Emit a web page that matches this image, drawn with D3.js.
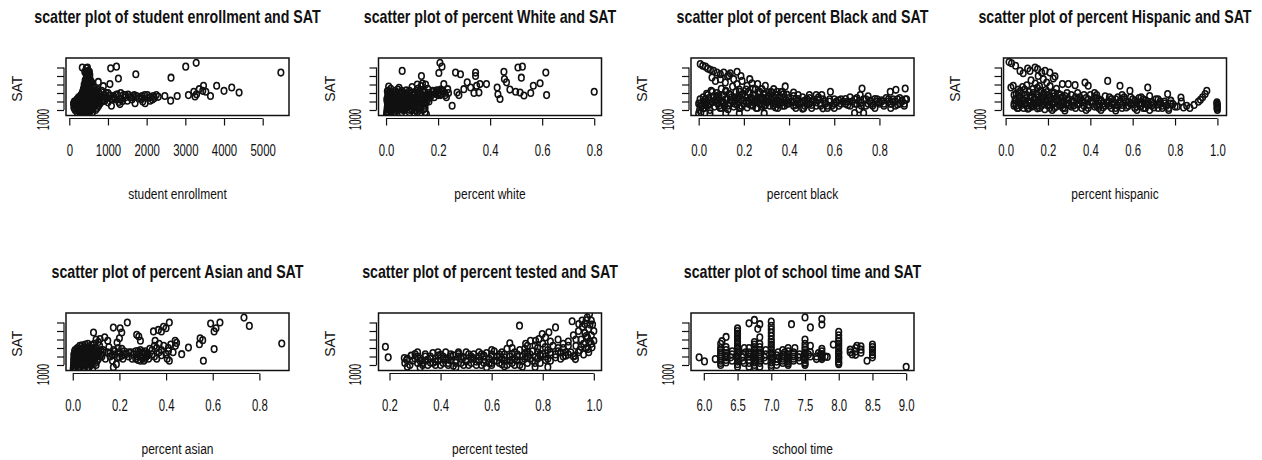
<!DOCTYPE html>
<html>
<head>
<meta charset="utf-8">
<script src="https://cdn.jsdelivr.net/npm/d3@7"></script>
<style>
  body { margin: 0; background: #fff; }
  text { font-family: "Liberation Sans", Arial, Helvetica, sans-serif; fill: #111; }
</style>
</head>
<body>
<script>
// SAT ticks shared by every panel (only 1000 gets a label, as in R)
var satTicks = [1000, 1200, 1400, 1600, 1800, 2000];

var titles = [
  "scatter plot of student enrollment and SAT",
  "scatter plot of percent White and SAT",
  "scatter plot of percent Black and SAT",
  "scatter plot of percent Hispanic and SAT",
  "scatter plot of percent Asian and SAT",
  "scatter plot of percent tested and SAT",
  "scatter plot of school time and SAT"
];
var xLabels = ["student enrollment", "percent white", "percent black", "percent hispanic",
  "percent asian", "percent tested", "school time"];

var enrollTicks = [0, 1000, 2000, 3000, 4000, 5000];
var shareTicks = [0, 0.2, 0.4, 0.6, 0.8];
var shareTicksFull = [0, 0.2, 0.4, 0.6, 0.8, 1.0];
var testedTicks = [0.2, 0.4, 0.6, 0.8, 1.0];
var timeTicks = [6, 6.5, 7, 7.5, 8, 8.5, 9];

// [x, SAT]
var enrollPts = [
  [110,1150],[120,1060],[130,1200],[140,1100],[160,1130],[180,1080],[190,1180],[200,1050],[210,1220],[220,1120],
  [230,1000],[240,1160],[250,1260],[255,1080],[265,950],[270,1200],[280,1120],[285,1030],[295,1300],[300,960],
  [305,1170],[310,1080],[320,1240],[325,1350],[330,990],[335,1140],[340,1420],[345,1060],[350,1280],[355,920],
  [360,1190],[365,1500],[370,1020],[375,1330],[380,1110],[385,1600],[390,960],[395,1250],[400,1400],[405,1080],
  [410,1700],[415,1180],[420,900],[425,1300],[430,1480],[435,1040],[440,1980],[445,1220],[450,1360],[455,1120],
  [460,1850],[465,980],[470,1550],[475,1260],[480,1900],[485,1080],[490,1420],[495,1180],[500,1750],[505,1020],
  [510,1320],[515,1640],[520,1120],[525,1800],[530,1240],[540,1460],[545,1050],[550,1700],[555,1350],[560,1150],
  [570,1580],[575,1010],[580,1280],[590,1640],[600,1180],[610,1400],[620,1090],[630,1520],[640,1260],[650,1340],
  [350,1000],[370,1200],[390,1350],[410,1000],[430,1150],[450,940],[470,1100],[490,1000],[510,940],[530,1050],
  [400,1230],[420,1460],[440,1290],[460,1410],[480,1200],[500,1300],[520,1450],[540,1200],[560,1300],[380,1450],
  [420,1600],[460,1650],[440,1750],[480,1680],[500,1550],[520,1900],[400,1900],[430,1850],[360,1330],[340,1220],
  [320,1010],[300,1120],[350,1140],[450,1060],[550,1000],[600,1050],[620,1360],[580,1450],[470,2000],[410,1550],
  [336,1998],[660,1200],[680,1420],[700,1150],[710,1320],[730,1480],[750,1660],[760,1250],[780,1380],[800,1190],
  [820,1300],[840,1450],[860,1230],[880,1560],[900,1340],[920,1220],[950,1400],[970,1280],[1000,1180],
  [200,950],[280,950],[360,950],[430,950],[520,950],[600,950],[150,1000],[250,1000],[330,1000],[470,1000],
  [560,1000],[680,1000],[130,1050],[210,1050],[300,1050],[390,1050],[460,1050],[620,1050],[720,1050],[170,1100],
  [260,1100],[340,1100],[420,1100],[500,1100],[580,1100],[660,1100],[760,1100],[120,1150],[230,1150],[310,1150],
  [380,1150],[440,1150],[520,1150],[610,1150],[690,1150],[790,1150],[150,1200],[260,1200],[330,1200],[410,1200],
  [490,1200],[560,1200],[640,1200],[720,1200],[850,1200],[200,1250],[290,1250],[370,1250],[450,1250],[530,1250],
  [600,1250],[700,1250],[780,1250],[900,1250],[1100,1250],[1300,1250],[240,1300],[340,1300],[420,1300],[480,1300],
  [560,1300],[650,1300],[740,1300],[830,1300],[960,1300],[1150,1300],[1600,1300],[1850,1300],[2100,1300],
  [300,1350],[380,1350],[460,1350],[540,1350],[610,1350],[700,1350],[800,1350],[920,1350],[1200,1350],[1450,1350],
  [1680,1350],[1950,1350],[350,1400],[420,1400],[500,1400],[570,1400],[660,1400],[760,1400],[1000,1400],[1330,1400],
  [390,1450],[470,1450],[530,1450],[640,1450],[700,1450],[400,1520],[450,1580],[490,1620],[540,1560],[430,1680],
  [510,1720],[560,1650],[470,1780],[530,1830],[490,1920],[450,1900],[1150,1320],[1380,1210],[1520,1360],[1650,1330],
  [1880,1330],[2050,1290],[2150,1250],[2250,1350],
  [1050,1610],[1060,1340],[1090,1100],[1070,1980],[1120,1260],[1180,1260],[1220,2020],[1240,1370],[1270,1740],
  [1280,1190],[1310,1140],[1350,1260],[1400,1350],[1450,1300],[1500,1220],[1570,1300],[1620,1250],[1700,1160],
  [1720,1840],[1740,1330],[1800,1270],[1870,1260],[1900,1200],[1960,1160],[2020,1350],[2090,1220],[2170,1330],
  [2200,1280],[2300,1310],[2470,1330],[2620,1220],[2630,1760],[2790,1330],[3010,2020],[3080,1350],[3220,1430],
  [3250,1320],[3280,2110],[3290,1370],[3360,1490],[3450,1450],[3470,1570],[3530,1430],[3650,1330],[3810,1570],
  [4000,1450],[4200,1530],[4390,1410],[5470,1880]
];

var whitePts = [
  [0.002,900],[0.003,960],[0.004,1020],[0.005,1080],[0.006,1140],[0.004,1200],[0.003,1260],[0.006,1320],[0.008,1380],
  [0.005,1440],[0.01,930],[0.012,1000],[0.01,1060],[0.012,1120],[0.011,1180],[0.013,1240],[0.01,1300],[0.015,1360],
  [0.016,1420],[0.018,1500],[0.02,950],[0.02,1050],[0.022,1150],[0.02,1250],[0.024,1330],[0.025,1000],[0.028,1100],
  [0.03,1200],[0.03,1280],[0.032,1400],[0.035,950],[0.038,1040],[0.04,1150],[0.04,1350],[0.042,1230],[0.045,1480],
  [0.048,1000],[0.05,1100],[0.052,1300],[0.055,1180],[0.058,1420],[0.06,1050],[0.062,1920],[0.065,1250],[0.068,1360],
  [0.07,1130],[0.072,1000],[0.075,1290],[0.078,1460],[0.08,1200],[0.082,1080],[0.085,1330],[0.088,1150],[0.09,1400],
  [0.092,1000],[0.095,1250],[0.098,1120],[0.1,1350],[0.102,1180],[0.105,1060],[0.108,1280],[0.11,1420],[0.112,1000],
  [0.115,1220],[0.118,1130],[0.12,1330],[0.122,1500],[0.125,1200],[0.128,1060],[0.13,1400],[0.132,1280],[0.135,1560],
  [0.136,1800],[0.138,1150],[0.14,1350],[0.142,1470],[0.145,1020],[0.148,1250],[0.15,1420],[0.152,1600],[0.155,1180],
  [0.158,1320],[0.16,1500],[0.11,920],[0.13,900],[0.15,950],[0.155,900],
  [0.005,950],[0.03,950],[0.06,950],[0.09,950],[0.12,950],[0.015,1000],[0.04,1000],[0.065,1000],[0.1,1000],
  [0.13,1000],[0.008,1050],[0.035,1050],[0.07,1050],[0.095,1050],[0.125,1050],[0.15,1050],[0.017,1100],[0.045,1100],
  [0.075,1100],[0.105,1100],[0.135,1100],[0.007,1150],[0.03,1150],[0.06,1150],[0.09,1150],[0.12,1150],[0.15,1150],
  [0.018,1200],[0.045,1200],[0.07,1200],[0.1,1200],[0.14,1200],[0.165,1200],[0.008,1250],[0.035,1250],[0.06,1250],
  [0.085,1250],[0.115,1250],[0.16,1250],[0.02,1300],[0.045,1300],[0.07,1300],[0.095,1300],[0.125,1300],[0.15,1300],
  [0.185,1300],[0.01,1350],[0.03,1350],[0.055,1350],[0.08,1350],[0.11,1350],[0.16,1350],[0.175,1350],[0.21,1350],
  [0.02,1400],[0.05,1400],[0.07,1400],[0.1,1400],[0.12,1400],[0.165,1400],[0.19,1400],[0.225,1400],[0.008,1450],
  [0.035,1450],[0.06,1450],[0.09,1450],[0.13,1450],[0.18,1450],[0.2,1450],[0.215,1450],[0.01,1550],[0.05,1520],
  [0.1,1540],[0.14,1620],[0.12,1600],
  [0.17,1300],[0.18,1420],[0.19,1380],[0.195,1460],[0.2,1350],[0.205,1420],[0.207,2110],[0.21,1480],[0.212,1380],
  [0.215,2020],[0.203,1870],[0.22,1440],[0.222,1610],[0.228,1350],[0.232,1300],[0.237,1490],[0.24,1400],[0.254,1100],
  [0.267,1880],[0.273,1410],[0.28,1350],[0.286,1840],[0.299,1490],[0.312,1650],[0.325,1530],[0.338,1400],[0.344,1880],
  [0.344,1800],[0.348,1570],[0.357,1410],[0.361,1610],[0.386,1610],[0.427,1530],[0.43,1370],[0.438,1260],[0.453,1900],
  [0.455,1730],[0.463,1650],[0.476,1480],[0.498,1430],[0.507,2000],[0.524,2020],[0.52,1760],[0.515,1410],[0.53,1340],
  [0.556,1400],[0.566,1570],[0.592,1630],[0.614,1880],[0.617,1350],[0.80,1430]
];

var blackPts = [
  [0.007,2080],[0.018,2040],[0.03,2020],[0.04,1975],[0.052,1945],[0.066,1920],[0.081,1880],[0.096,1840],[0.111,1880],
  [0.128,1790],[0.14,1865],[0.17,1900],[0.187,1800],[0.226,1725],[0.261,1610],[0.295,1570],[0.332,1490],[0.383,1555],
  [0.42,1410],[0.059,1765],[0.074,1685],[0.096,1725],[0.118,1645],[0.133,1820],[0.155,1725],[0.17,1610],[0.192,1685],
  [0.214,1570],[0.236,1630],[0.251,1490],[0.28,1490],[0.31,1410],[0.347,1430],[0.376,1375],
  [0.004,1000],[0.005,1150],[0.006,1250],[0.01,950],[0.015,1100],[0.02,1300],[0.025,1050],[0.03,1200],[0.035,1380],
  [0.04,1120],[0.045,1280],[0.05,1000],[0.055,1450],[0.06,1180],[0.065,1320],[0.07,1080],[0.075,1240],[0.08,1400],
  [0.085,1150],[0.09,1300],[0.095,1050],[0.1,1500],[0.105,1200],[0.11,1350],[0.115,1100],[0.12,1450],[0.125,1250],
  [0.13,1020],[0.135,1380],[0.14,1150],[0.145,1300],[0.15,1550],[0.155,1080],[0.16,1220],[0.165,1420],[0.17,1130],
  [0.175,1300],[0.18,1480],[0.185,1050],[0.19,1250],[0.195,1380],[0.2,1150],[0.205,1320],[0.21,1480],[0.215,1060],
  [0.22,1220],[0.225,1400],[0.23,1120],[0.235,1280],[0.24,1500],[0.245,1180],[0.25,1350],[0.255,1050],[0.26,1250],
  [0.265,1420],[0.27,1150],[0.275,1300],[0.28,1080],[0.285,1230],[0.29,1380],[0.295,1120],[0.3,1280],[0.305,1200],
  [0.31,1340],[0.315,1100],[0.32,1250],[0.325,1400],[0.33,1160],[0.335,1300],[0.34,1060],[0.345,1220],[0.35,1350],
  [0.355,1130],[0.36,1270],[0.365,1420],[0.37,1180],[0.375,1300],[0.38,1100],[0.385,1240],[0.39,1360],[0.395,1150],
  [0.4,1280],[0.41,1200],[0.42,1330],[0.43,1120],[0.44,1260],[0.45,1180],[0.46,1300],[0.465,1050],[0.47,1220],
  [0.48,1150],[0.49,1280],[0.5,1120],[0.51,1240],[0.52,1180],[0.53,1300],[0.54,1100],[0.55,1250],[0.545,1350],
  [0.56,1150],[0.57,1050],[0.58,1200],[0.583,1430],[0.59,1100],[0.6,1250],[0.61,1180],[0.62,1230],[0.63,1150],
  [0.64,1200],[0.65,1260],[0.66,1120],[0.67,1300],[0.68,1200],[0.69,1150],[0.7,1280],[0.71,1020],[0.715,1350],
  [0.72,1180],[0.723,1505],[0.73,1250],[0.74,1100],[0.75,1320],[0.76,1200],[0.77,1150],[0.78,1260],[0.79,1200],
  [0.8,1180],[0.81,1230],[0.82,1150],[0.83,1280],[0.84,1200],[0.848,1430],[0.85,1150],[0.86,1250],[0.873,1475],
  [0.87,1200],[0.88,1130],[0.89,1280],[0.9,1200],[0.91,1150],[0.914,1505],[0.915,1250],
  [0.0,920],[0.05,920],[0.12,920],[0.18,920],[0.29,920],[0.55,1040],[0.69,930],[0.73,930],[0.46,1030],
  [0.03,1120],[0.07,1200],[0.11,1180],[0.16,1300],[0.2,1230],[0.25,1200],[0.3,1180],[0.35,1220],[0.4,1160],
  [0.08,1320],[0.14,1240],[0.22,1160],[0.28,1300],[0.33,1220],[0.38,1180],[0.44,1200],[0.5,1200],
  [0.01,1100],[0.04,1100],[0.09,1100],[0.13,1100],[0.19,1100],[0.24,1100],[0.29,1100],[0.33,1100],[0.37,1100],
  [0.42,1100],[0.47,1100],[0.52,1100],[0.57,1100],[0.62,1100],[0.67,1100],[0.72,1100],[0.77,1100],[0.82,1100],
  [0.87,1100],[0.91,1100],[0.02,1200],[0.06,1200],[0.1,1200],[0.15,1200],[0.21,1200],[0.26,1200],[0.31,1200],
  [0.36,1200],[0.41,1180],[0.46,1200],[0.51,1200],[0.56,1200],[0.61,1200],[0.66,1200],[0.71,1200],[0.76,1220],
  [0.81,1200],[0.86,1200],[0.9,1220],[0.03,1250],[0.08,1250],[0.12,1250],[0.17,1250],[0.23,1250],[0.27,1250],
  [0.32,1270],[0.43,1250],[0.48,1250],[0.53,1250],[0.58,1250],[0.63,1250],[0.69,1250],[0.74,1250],[0.79,1250],
  [0.84,1250],[0.88,1250],[0.92,1250],[0.0,1150],[0.05,1150],[0.11,1150],[0.16,1150],[0.22,1150],[0.28,1150],
  [0.34,1150],[0.39,1150],[0.44,1150],[0.49,1150],[0.54,1150],[0.6,1150],[0.65,1150],[0.7,1150],[0.75,1150],
  [0.8,1150],[0.85,1150],[0.89,1150],[0.04,1350],[0.09,1350],[0.14,1350],[0.19,1350],[0.24,1350],[0.29,1350],
  [0.34,1350],[0.44,1350],[0.49,1350],[0.52,1350],[0.02,1050],[0.1,1050],[0.18,1050],[0.26,1050],[0.35,1050],
  [0.43,1050],[0.5,1050],[0.6,1050],[0.78,1050],[0.85,1050],[0.06,1430],[0.12,1430],[0.18,1430],[0.22,1430],
  [0.27,1430],[0.32,1430],[0.37,1430]
];

var hispanicPts = [
  [0.016,2130],[0.028,2100],[0.047,2040],[0.068,1920],[0.083,1865],[0.104,1975],[0.115,1920],[0.139,2000],[0.151,1960],
  [0.154,1800],[0.17,1880],[0.186,1920],[0.209,1880],[0.225,1740],[0.233,1790],[0.178,1725],[0.194,1645],[0.12,1700],
  [0.14,1620],[0.16,1560],[0.1,1580],[0.025,1530],[0.036,1570],[0.06,1480],[0.268,1610],[0.296,1610],[0.328,1585],
  [0.375,1645],[0.39,1570],[0.482,1685],[0.54,1570],[0.587,1450],[0.671,1530],[0.765,1375],[0.828,1295],[0.942,1375],
  [0.95,1450],[0.91,1195],[0.89,1120],[0.855,1100],[0.8,1080],[0.77,1000],[0.68,1000],[0.62,1000],[0.52,990],
  [0.45,1000],[0.38,1000],[0.28,990],[0.22,1000],[0.998,1180],[1.0,1120],[0.998,1060],[1.0,1000],[0.997,1150],
  [1.0,1090],[0.999,1030],
  [0.04,1100],[0.045,1250],[0.05,1380],[0.055,1050],[0.06,1180],[0.065,1300],[0.07,1450],[0.075,1120],[0.08,1230],
  [0.085,1050],[0.09,1350],[0.095,1150],[0.1,1280],[0.105,1030],[0.11,1420],[0.115,1200],[0.12,1320],[0.125,1080],
  [0.13,1500],[0.135,1250],[0.14,1150],[0.145,1380],[0.15,1040],[0.155,1300],[0.16,1180],[0.165,1450],[0.17,1100],
  [0.175,1250],[0.18,1350],[0.185,1020],[0.19,1200],[0.195,1420],[0.2,1130],[0.205,1300],[0.21,1050],[0.215,1250],
  [0.22,1400],[0.225,1150],[0.23,1320],[0.24,1080],[0.245,1220],[0.25,1380],[0.255,1120],[0.26,1280],[0.27,1050],
  [0.275,1200],[0.28,1330],[0.29,1150],[0.3,1250],[0.31,1080],[0.32,1200],[0.33,1300],[0.34,1130],[0.35,1230],
  [0.36,1050],[0.37,1180],[0.38,1280],[0.39,1120],[0.4,1350],[0.41,1200],[0.42,1080],[0.43,1280],[0.44,1150],
  [0.45,1230],[0.46,1060],[0.47,1320],[0.48,1180],[0.49,1100],[0.5,1260],[0.51,1150],[0.52,1050],[0.53,1300],
  [0.54,1200],[0.55,1120],[0.56,1250],[0.57,1060],[0.58,1180],[0.59,1300],[0.6,1140],[0.61,1220],[0.62,1080],
  [0.63,1280],[0.64,1160],[0.65,1050],[0.66,1230],[0.67,1120],[0.68,1330],[0.69,1180],[0.7,1060],[0.71,1250],
  [0.72,1130],[0.73,1200],[0.74,1050],[0.75,1150],[0.76,1100],[0.78,1220],[0.79,1140],[0.81,1080],[0.83,1200],
  [0.84,1060],[0.87,1050],[0.92,1240],[0.93,1300],
  [0.07,1150],[0.12,1100],[0.17,1200],[0.23,1180],[0.3,1120],[0.36,1200],[0.44,1100],[0.5,1150],[0.58,1100],[0.66,1150],
  [0.06,1050],[0.11,1050],[0.16,1050],[0.23,1050],[0.28,1050],[0.33,1050],[0.39,1050],[0.44,1050],[0.5,1050],
  [0.55,1050],[0.61,1050],[0.66,1050],[0.72,1050],[0.77,1050],[0.05,1100],[0.1,1100],[0.15,1100],[0.2,1100],
  [0.26,1100],[0.32,1100],[0.37,1100],[0.43,1100],[0.47,1100],[0.53,1100],[0.58,1100],[0.64,1100],[0.69,1100],
  [0.74,1100],[0.04,1150],[0.09,1150],[0.13,1150],[0.18,1150],[0.22,1150],[0.27,1150],[0.35,1150],[0.41,1150],
  [0.46,1150],[0.54,1150],[0.59,1150],[0.63,1150],[0.7,1150],[0.73,1150],[0.78,1150],[0.06,1200],[0.11,1200],
  [0.15,1200],[0.21,1200],[0.26,1200],[0.31,1200],[0.36,1200],[0.4,1200],[0.45,1200],[0.49,1200],[0.57,1200],
  [0.62,1200],[0.67,1200],[0.75,1200],[0.05,1250],[0.08,1250],[0.14,1250],[0.19,1250],[0.24,1250],[0.29,1250],
  [0.34,1250],[0.39,1250],[0.44,1250],[0.52,1250],[0.6,1250],[0.65,1250],[0.72,1250],[0.07,1300],[0.12,1300],
  [0.17,1300],[0.21,1300],[0.27,1300],[0.35,1300],[0.42,1300],[0.49,1300],[0.56,1300],[0.64,1300],[0.04,1350],
  [0.1,1350],[0.15,1350],[0.2,1350],[0.26,1350],[0.31,1350],[0.37,1350],[0.43,1350],[0.55,1350],[0.06,1400],
  [0.13,1400],[0.18,1400],[0.23,1400],[0.29,1400],[0.34,1400],[0.42,1400],[0.09,1480],[0.15,1520],[0.19,1470],
  [0.24,1500],[0.21,1560],[0.08,1540]
];

var asianPts = [
  [0.896,1505],[0.734,2115],[0.757,1920],[0.631,2000],[0.614,1865],[0.591,1975],[0.606,1790],[0.546,1630],[0.557,1585],
  [0.606,1375],[0.56,1100],[0.543,1490],[0.496,1410],[0.467,1255],[0.414,2000],[0.4,1865],[0.389,1900],[0.38,1790],
  [0.367,1825],[0.346,1790],[0.353,1570],[0.439,1570],[0.445,1520],[0.414,1100],[0.405,1150],[0.43,1300],[0.41,1330],
  [0.234,2000],[0.203,1865],[0.174,1880],[0.21,1765],[0.2,1630],[0.19,1530],[0.274,1710],[0.29,1570],[0.283,1670],
  [0.089,1765],[0.117,1610],[0.15,1570],[0.137,1650],[0.174,945],[0.187,1020],
  [0.002,920],[0.003,1000],[0.004,1080],[0.005,1160],[0.006,1240],[0.008,1320],[0.01,950],[0.012,1040],[0.014,1120],
  [0.015,1200],[0.016,1280],[0.018,1380],[0.02,1000],[0.022,1090],[0.024,1170],[0.025,1250],[0.028,1340],[0.03,1450],
  [0.032,950],[0.034,1050],[0.036,1130],[0.038,1220],[0.04,1300],[0.042,1400],[0.044,1000],[0.046,1100],[0.048,1180],
  [0.05,1260],[0.052,1350],[0.054,1480],[0.056,1030],[0.058,1140],[0.06,1220],[0.062,1300],[0.064,1420],[0.066,1080],
  [0.068,1180],[0.07,1260],[0.072,1340],[0.074,1000],[0.076,1120],[0.078,1230],[0.08,1380],[0.082,1160],[0.084,1280],
  [0.086,1060],[0.088,1200],[0.09,1330],[0.092,1500],[0.095,1150],[0.098,1260],[0.1,1400],[0.105,1200],[0.11,1320],
  [0.115,1450],[0.12,1250],[0.085,900],[0.065,920],[0.045,910],
  [0.005,950],[0.025,950],[0.05,950],[0.07,950],[0.01,1000],[0.035,1000],[0.055,1000],[0.08,1000],[0.1,1000],
  [0.005,1050],[0.025,1050],[0.045,1050],[0.07,1050],[0.095,1050],[0.015,1100],[0.035,1100],[0.06,1100],[0.085,1100],
  [0.105,1100],[0.005,1150],[0.025,1150],[0.045,1150],[0.07,1150],[0.09,1150],[0.11,1150],[0.015,1200],[0.035,1200],
  [0.055,1200],[0.075,1200],[0.1,1200],[0.125,1200],[0.005,1250],[0.02,1250],[0.045,1250],[0.065,1250],[0.085,1250],
  [0.11,1250],[0.015,1300],[0.03,1300],[0.05,1300],[0.075,1300],[0.1,1300],[0.13,1300],[0.01,1350],[0.04,1350],
  [0.06,1350],[0.085,1350],[0.12,1350],[0.02,1400],[0.05,1400],[0.07,1400],[0.09,1400],[0.04,1460],[0.065,1500],
  [0.08,1470],[0.11,1540],[0.1,1600],
  [0.13,1350],[0.14,1150],[0.15,1300],[0.155,1420],[0.16,1200],[0.17,1100],[0.175,1350],[0.18,1250],[0.19,1180],
  [0.195,1400],[0.2,1300],[0.21,1220],[0.215,1150],[0.22,1320],[0.23,1260],[0.24,1200],[0.25,1300],[0.255,1150],
  [0.26,1250],[0.27,1320],[0.275,1200],[0.28,1120],[0.285,1280],[0.29,1350],[0.295,1180],[0.3,1250],[0.305,1100],
  [0.31,1320],[0.315,1200],[0.32,1280],[0.325,1150],[0.33,1380],[0.34,1250],[0.35,1200],[0.36,1400],[0.37,1300],
  [0.38,1230],[0.39,1450],[0.42,1480],[0.44,1450],
  [0.27,1150],[0.28,1250],[0.29,1200],[0.3,1300],[0.31,1150],[0.32,1220],[0.3,1170],[0.28,1330],[0.31,1260],
  [0.29,1100],[0.16,1280],[0.18,1320],[0.2,1180],[0.22,1250],[0.24,1300],[0.21,1380],[0.17,1230],[0.34,1350],
  [0.36,1150],[0.38,1350],[0.4,1250],[0.41,1400],[0.37,1500],[0.35,1450]
];

var testedPts = [
  [0.184,1430],[0.195,1180],[0.258,1165],[0.267,1120],[0.285,1220],[0.3,1260],[0.31,1300],[0.32,1100],
  [0.709,1925],[0.85,1885],[0.824,1770],[0.915,2030],[0.941,1965],[0.954,2045],[0.974,2120],[0.99,2045],[0.983,2200],
  [0.965,1965],[0.928,1140],[0.926,1220],[0.993,1415],[1.0,1570],[0.978,1375],[0.798,1730],[0.811,1650],[0.785,1610],
  [0.772,1570],[0.752,1570],[0.733,1500],[0.671,1510],
  [0.33,1050],[0.34,1200],[0.35,1000],[0.36,1150],[0.37,1280],[0.38,1080],[0.39,1220],[0.4,1000],[0.41,1150],
  [0.42,1300],[0.43,1050],[0.44,1200],[0.45,980],[0.46,1120],[0.47,1260],[0.48,1050],[0.49,1180],[0.5,1300],
  [0.51,1000],[0.52,1150],[0.53,1250],[0.54,1080],[0.55,1200],[0.56,1000],[0.57,1130],[0.58,1280],[0.59,1050],
  [0.6,1200],[0.61,1320],[0.62,1100],[0.63,1250],[0.64,1020],[0.65,1180],[0.66,1380],[0.67,1100],[0.68,1250],
  [0.69,1000],[0.7,1200],[0.71,1350],[0.72,1100],[0.73,1280],[0.74,1450],[0.75,1150],[0.76,1320],[0.77,1050],
  [0.78,1400],[0.79,1220],[0.8,1500],[0.81,1120],[0.82,1350],[0.83,1250],[0.84,1450],[0.85,1180],[0.86,1600],
  [0.87,1300],[0.88,1400],[0.89,1220],[0.9,1550],[0.91,1300],[0.92,1700],[0.93,1450],[0.94,1800],[0.945,1350],
  [0.95,1600],[0.955,1900],[0.96,1500],[0.965,1750],[0.97,1400],[0.975,1650],[0.98,1850],[0.985,1550],[0.99,1700],
  [0.995,1950],[1.0,1800],[0.97,2050],[0.985,1950],
  [0.27,960],[0.32,940],[0.46,950],[0.58,950],[0.65,970],[0.72,960],[0.77,955],[0.82,950],
  [0.35,1130],[0.45,1230],[0.55,1100],[0.62,1200],[0.4,1240],[0.5,1080],[0.6,1050],[0.3,1150],[0.36,1060],
  [0.42,1120],[0.48,1200],[0.53,1160],[0.57,1220],[0.64,1140],[0.68,1130],[0.74,1200],[0.8,1260],[0.86,1320],
  [0.28,1000],[0.33,1000],[0.38,1000],[0.43,1000],[0.49,1000],[0.54,1000],[0.6,1000],[0.66,1000],[0.71,1000],
  [0.26,1050],[0.31,1050],[0.37,1050],[0.41,1050],[0.46,1050],[0.52,1050],[0.57,1050],[0.63,1050],[0.68,1050],
  [0.74,1050],[0.79,1050],[0.29,1100],[0.34,1100],[0.39,1100],[0.44,1100],[0.5,1100],[0.55,1100],[0.61,1100],
  [0.65,1100],[0.7,1100],[0.76,1100],[0.83,1100],[0.27,1150],[0.32,1150],[0.38,1150],[0.43,1150],[0.48,1150],
  [0.53,1150],[0.59,1150],[0.64,1150],[0.69,1150],[0.73,1150],[0.78,1150],[0.82,1150],[0.87,1150],[0.31,1200],
  [0.36,1200],[0.41,1200],[0.47,1200],[0.52,1200],[0.57,1200],[0.63,1200],[0.67,1200],[0.72,1200],[0.77,1200],
  [0.81,1200],[0.88,1200],[0.92,1200],[0.34,1250],[0.44,1250],[0.51,1250],[0.56,1250],[0.6,1250],[0.65,1250],
  [0.7,1250],[0.75,1250],[0.79,1250],[0.85,1250],[0.9,1250],[0.96,1250],[0.39,1300],[0.47,1300],[0.55,1300],
  [0.64,1300],[0.69,1300],[0.74,1300],[0.78,1300],[0.83,1300],[0.89,1300],[0.94,1300],[0.98,1300],[0.6,1350],
  [0.68,1400],[0.73,1380],[0.77,1460],[0.81,1420],[0.86,1400],[0.9,1450],[0.95,1430],[0.99,1500],[0.83,1550],
  [0.88,1500],[0.93,1600],[0.97,1680]
];

var timePts = [
  [5.93,1180],[6.01,1085],[6.17,1140],
  [6.25,1000],[6.25,1100],[6.25,1200],[6.25,1300],[6.25,1400],[6.25,1500],[6.27,1560],
  [6.33,1060],[6.33,1180],[6.33,1280],[6.33,1420],[6.33,1660],[6.42,1100],[6.42,1250],
  [6.5,960],[6.5,1020],[6.5,1080],[6.5,1140],[6.5,1200],[6.5,1260],[6.5,1320],[6.5,1380],[6.5,1440],[6.5,1500],
  [6.5,1560],[6.5,1620],[6.5,1680],[6.5,1740],[6.5,1800],[6.5,1860],[6.48,1200],[6.52,1300],
  [6.58,1100],[6.58,1250],[6.6,1400],[6.67,960],[6.67,1050],[6.67,1200],[6.67,1300],[6.67,1980],
  [6.75,950],[6.75,1000],[6.75,1060],[6.75,1120],[6.75,1180],[6.75,1240],[6.75,1300],[6.75,1360],[6.75,1420],
  [6.75,1480],[6.75,1540],[6.75,2060],[6.73,1200],[6.77,1100],
  [6.83,960],[6.83,1050],[6.83,1150],[6.83,1250],[6.83,1350],[6.83,1500],[6.83,1650],[6.83,1960],[6.8,1850],
  [6.92,1100],[6.92,1250],
  [7.0,950],[7.0,1000],[7.0,1060],[7.0,1120],[7.0,1180],[7.0,1240],[7.0,1300],[7.0,1360],[7.0,1420],[7.0,1480],
  [7.0,1540],[7.0,1600],[7.0,1680],[7.0,1760],[7.0,1840],[7.0,1920],[7.0,2020],[7.02,1150],
  [7.08,1000],[7.08,1150],[7.1,1300],[7.17,1050],[7.17,1150],[7.17,1250],[7.17,1350],
  [7.25,1000],[7.25,1080],[7.25,1160],[7.25,1240],[7.25,1320],[7.25,1400],[7.3,1960],
  [7.33,1100],[7.33,1200],[7.33,1300],[7.35,1400],[7.42,1100],[7.42,1250],
  [7.5,1000],[7.5,1060],[7.5,1120],[7.5,1180],[7.5,1240],[7.5,1300],[7.5,1360],[7.5,1420],[7.5,1500],[7.5,1600],
  [7.5,2120],[7.48,1200],[7.58,1885],[7.58,1200],[7.58,1450],[7.67,1140],
  [7.75,1140],[7.75,1200],[7.75,1260],[7.75,1320],[7.75,1380],[7.75,1950],[7.75,2080],[7.73,1250],
  [7.83,1190],[7.92,1480],
  [8.0,1020],[8.0,1080],[8.0,1140],[8.0,1200],[8.0,1260],[8.0,1320],[8.0,1380],[8.0,1440],[8.0,1500],[8.0,1560],
  [8.0,1620],[8.0,1700],[8.0,1780],
  [8.17,1300],[8.17,1360],[8.25,1240],[8.25,1320],[8.25,1400],[8.27,1450],[8.33,1290],[8.33,1360],[8.33,1440],
  [8.42,1100],[8.5,1180],[8.5,1240],[8.5,1300],[8.5,1360],[8.5,1420],[8.5,1480],[9.0,960],
  [6.25,1050],[6.25,1150],[6.25,1250],[6.25,1350],[6.33,1120],[6.33,1230],[6.33,1350],[6.4,1180],[6.42,1320],
  [6.58,1180],[6.6,1050],[6.62,1300],[6.67,1120],[6.67,1250],[6.67,1400],[6.83,1100],[6.83,1200],[6.83,1300],
  [6.83,1420],[6.9,1180],[6.92,1350],[7.08,1080],[7.08,1230],[7.12,1180],[7.17,1100],[7.17,1200],[7.2,1300],
  [7.25,1040],[7.25,1120],[7.25,1200],[7.33,1150],[7.33,1250],[7.4,1180],[7.42,1180],[7.5,1030],[7.5,1150],
  [7.5,1270],[7.55,1250],[7.58,1300],[7.67,1200],[7.7,1280],[7.75,1170],[7.75,1230],[7.8,1200],[8.0,1050],
  [8.0,1170],[8.0,1290],[8.2,1250]
];

var fmtInt = d3.format("d"), fmt1 = d3.format(".1f");
var panels = [
  {pts: enrollPts,   ticks: enrollTicks,    dom: [-85, 5680],     fmt: fmtInt},
  {pts: whitePts,    ticks: shareTicks,     dom: [-0.029, 0.828], fmt: fmt1},
  {pts: blackPts,    ticks: shareTicks,     dom: [-0.034, 0.953], fmt: fmt1},
  {pts: hispanicPts, ticks: shareTicksFull, dom: [-0.01, 1.043],  fmt: fmt1},
  {pts: asianPts,    ticks: shareTicks,     dom: [-0.029, 0.927], fmt: fmt1},
  {pts: testedPts,   ticks: testedTicks,    dom: [0.157, 1.03],   fmt: fmt1},
  {pts: timePts,     ticks: timeTicks,      dom: [5.81, 9.116],   fmt: fmt1}
];

var width = 1262, height = 460;
var boxW = 223, boxH = 57.5;
var ink = "#111";
var fontStack = "Liberation Sans, Arial, sans-serif";

var svg = d3.select("body").append("svg")
    .attr("width", width)
    .attr("height", height);

panels.forEach(function(p, i) {
  var col = i % 4, row = Math.floor(i / 4);
  var left = 66 + col * 312.5, top = 58 + row * 255;

  var x = d3.scaleLinear().domain(p.dom).range([0, boxW]);
  var y = d3.scaleLinear().domain([870.6, 2223.5]).range([boxH, 0]);

  var g = svg.append("g").attr("transform", "translate(" + left + "," + top + ")");

  g.append("clipPath").attr("id", "clip" + i)
    .append("rect").attr("width", boxW).attr("height", boxH);

  g.append("g")
      .attr("clip-path", "url(#clip" + i + ")")
    .selectAll("ellipse")
    .data(p.pts)
    .enter().append("ellipse")
      .attr("cx", function(d) { return x(d[0]); })
      .attr("cy", function(d) { return y(d[1]); })
      .attr("rx", 2.8)
      .attr("ry", 3.3)
      .attr("fill", "none")
      .attr("stroke", ink)
      .attr("stroke-width", 1.55);

  g.append("rect")
    .attr("width", boxW)
    .attr("height", boxH)
    .attr("fill", "none")
    .attr("stroke", ink)
    .attr("stroke-width", 1.5);

  // x axis, line only from first to last tick like R
  var xa = g.append("g")
    .attr("transform", "translate(0," + (boxH + 3) + ")")
    .call(d3.axisBottom(x).tickValues(p.ticks).tickSize(7).tickFormat(p.fmt));
  xa.select(".domain").remove();
  xa.append("line")
    .attr("x1", x(p.ticks[0])).attr("x2", x(p.ticks[p.ticks.length - 1]))
    .attr("stroke", ink).attr("stroke-width", 1.2);
  xa.selectAll(".tick line").attr("stroke", ink).attr("stroke-width", 1.2);
  xa.selectAll(".tick text")
    .attr("y", 0).attr("dy", null)
    .attr("transform", "translate(0,37.5) scale(0.69,1)")
    .attr("font-size", 16.5)
    .attr("font-family", fontStack)
    .style("fill", ink);

  // y axis, only 1000 labelled
  var ya = g.append("g")
    .attr("transform", "translate(-2,0)")
    .call(d3.axisLeft(y).tickValues(satTicks).tickSize(7)
      .tickFormat(function(d) { return d === 1000 ? "1000" : ""; }));
  ya.select(".domain").remove();
  ya.append("line")
    .attr("y1", y(satTicks[0])).attr("y2", y(satTicks[satTicks.length - 1]))
    .attr("stroke", ink).attr("stroke-width", 1.2);
  ya.selectAll(".tick line").attr("stroke", ink).attr("stroke-width", 1.2);
  ya.selectAll(".tick text")
    .attr("x", 0).attr("dy", "0.35em")
    .attr("transform", "translate(-21,9) rotate(-90) scale(0.6,1)")
    .attr("text-anchor", "middle")
    .attr("font-size", 16)
    .attr("font-family", fontStack)
    .style("fill", ink);

  // title and axis labels
  g.append("text")
    .text(titles[i])
    .attr("transform", "translate(" + (boxW / 2) + ",-35) scale(0.79,1)")
    .attr("text-anchor", "middle")
    .style("font-size", "18px")
    .style("font-weight", "bold");

  g.append("text")
    .text(xLabels[i])
    .attr("transform", "translate(" + (boxW / 2) + ",141) scale(0.8,1)")
    .attr("text-anchor", "middle")
    .style("font-size", "15px");

  g.append("text")
    .text("SAT")
    .attr("transform", "translate(-48.5," + (boxH / 2 + 2) + ") rotate(-90)")
    .attr("dy", "0.35em")
    .attr("text-anchor", "middle")
    .style("font-size", "14px");
});
</script>
</body>
</html>
